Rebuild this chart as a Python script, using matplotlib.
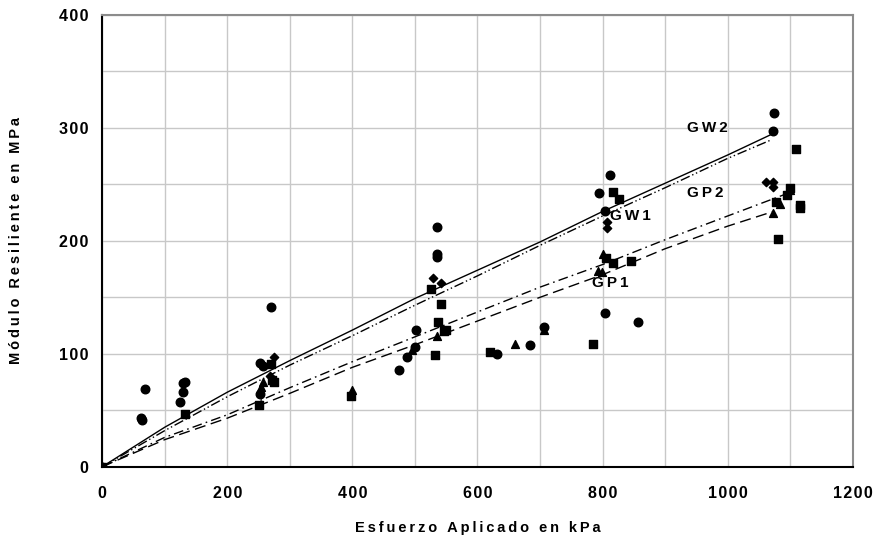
import numpy as np
import matplotlib
matplotlib.use("Agg")
import matplotlib.pyplot as plt

plt.rcParams['font.family'] = ['Liberation Sans', 'DejaVu Sans']
plt.rcParams['font.weight'] = 'bold'

# Measured points (stress kPa, modulus MPa), one array pair per marker type
circ_x = [0, 62, 64, 68, 125, 129, 129, 133, 253, 257, 270, 252, 475, 488, 500, 502,
          535, 535, 536, 631, 684, 707, 795, 812, 804, 804, 857, 1072, 1074]
circ_y = [0, 43, 41, 69, 57, 66, 74, 75, 92, 89, 141, 64, 86, 97, 106, 121,
          212, 188, 186, 100, 108, 124, 242, 258, 226, 136, 128, 297, 313]

sq_x = [0, 132, 251, 270, 271, 274, 398, 525, 532, 537, 542, 546, 549, 620, 785,
        806, 817, 827, 816, 845, 1077, 1080, 1095, 1100, 1110, 1115, 1116]
sq_y = [0, 47, 55, 91, 77, 75, 63, 157, 99, 128, 144, 120, 121, 102, 109,
        185, 180, 237, 243, 182, 234, 202, 241, 247, 281, 232, 229]

tri_x = [0, 254, 257, 400, 495, 535, 660, 707, 793, 799, 800, 1073, 1084, 1100]
tri_y = [0, 71, 75, 68, 103, 116, 109, 121, 173, 172, 188, 225, 233, 245]

dia_x = [0, 275, 268, 529, 541, 807, 807, 1061, 1072, 1072]
dia_y = [0, 97, 80, 167, 163, 217, 211, 252, 252, 248]

# Fitted curves
gw2_x = [0, 100, 200, 300, 400, 500, 600, 700, 800, 900, 1000, 1069]
gw2_y = [0, 35, 66, 94, 121, 149, 174, 199, 226, 251, 276, 294]
gw1_x = [0, 100, 200, 300, 400, 500, 600, 700, 800, 900, 1000, 1068]
gw1_y = [0, 32, 62, 90, 116, 143, 169, 196, 222, 247, 273, 289]
gp2_x = [0, 100, 200, 300, 400, 500, 600, 700, 800, 900, 1000, 1091]
gp2_y = [0, 26, 46, 70, 93, 115, 137, 159, 179, 201, 222, 241]
gp1_x = [0, 100, 200, 300, 400, 500, 600, 700, 800, 900, 1000, 1073]
gp1_y = [0, 24, 43, 65, 88, 108, 129, 150, 170, 193, 213, 226]

curve_names = ["GW2", "GW1", "GP2", "GP1"]
label_pos = [(968, 300), (844, 222), (965, 242), (812, 163)]

x_ticks = [0, 200, 400, 600, 800, 1000, 1200]
y_ticks = [0, 100, 200, 300, 400]


def spaced(s, gap="\u2009"):
    # widen the letter spacing
    return gap.join(s)


fig = plt.figure(figsize=(8.75, 5.37), dpi=100)
ax = fig.add_axes([0.1169, 0.1309, 0.8576, 0.8412])

ax.plot(gw2_x, gw2_y, color='black', lw=1.0, ls='-')
ax.plot(gw1_x, gw1_y, color='black', lw=1.0, ls=(0, (7, 2, 1, 2, 1, 2)))
ax.plot(gp2_x, gp2_y, color='black', lw=1.0, ls=(0, (7, 3, 1.2, 3)))
ax.plot(gp1_x, gp1_y, color='black', lw=1.0, ls=(0, (8, 4)))

ax.scatter(circ_x, circ_y, marker='o', s=38, color='black', zorder=3)
ax.scatter(sq_x, sq_y, marker='s', s=32, color='black', zorder=3)
ax.scatter(tri_x, tri_y, marker='^', s=32, color='black', zorder=3)
ax.scatter(dia_x, dia_y, marker='D', s=18, color='black', zorder=3)

for name, (lx, ly) in zip(curve_names, label_pos):
    ax.text(lx, ly, spaced(name), fontsize=11, fontweight='bold',
            ha='center', va='center')

ax.set_xlim(0, 1200)
ax.set_ylim(0, 400)
ax.set_xticks(np.arange(0, 1201, 100), minor=True)
ax.set_xticks(x_ticks)
ax.set_xticklabels([spaced(str(v), "\u200a") for v in x_ticks])
ax.set_yticks(np.arange(0, 401, 50), minor=True)
ax.set_yticks(y_ticks)
ax.set_yticklabels([spaced(str(v), "\u200a") for v in y_ticks])
ax.grid(True, which='both', color='#c8c8c8', lw=1.0)
ax.set_axisbelow(True)
ax.tick_params(which='both', length=0)
ax.tick_params(axis='x', pad=14, labelsize=11.5)
ax.tick_params(axis='y', pad=10, labelsize=11.5)
for lab in ax.get_xticklabels() + ax.get_yticklabels():
    lab.set_fontweight('bold')

for side in ['top', 'right']:
    ax.spines[side].set_color('#8c8c8c')
    ax.spines[side].set_linewidth(1.5)
for side in ['left', 'bottom']:
    ax.spines[side].set_color('black')
    ax.spines[side].set_linewidth(1.5)

ax.set_xlabel(spaced("Esfuerzo Aplicado en kPa"), fontsize=10.5, fontweight='bold', labelpad=14)
ax.set_ylabel(spaced("Módulo Resiliente en MPa"), fontsize=10.5, fontweight='bold', labelpad=26)

fig.savefig("out.png", dpi=100)
